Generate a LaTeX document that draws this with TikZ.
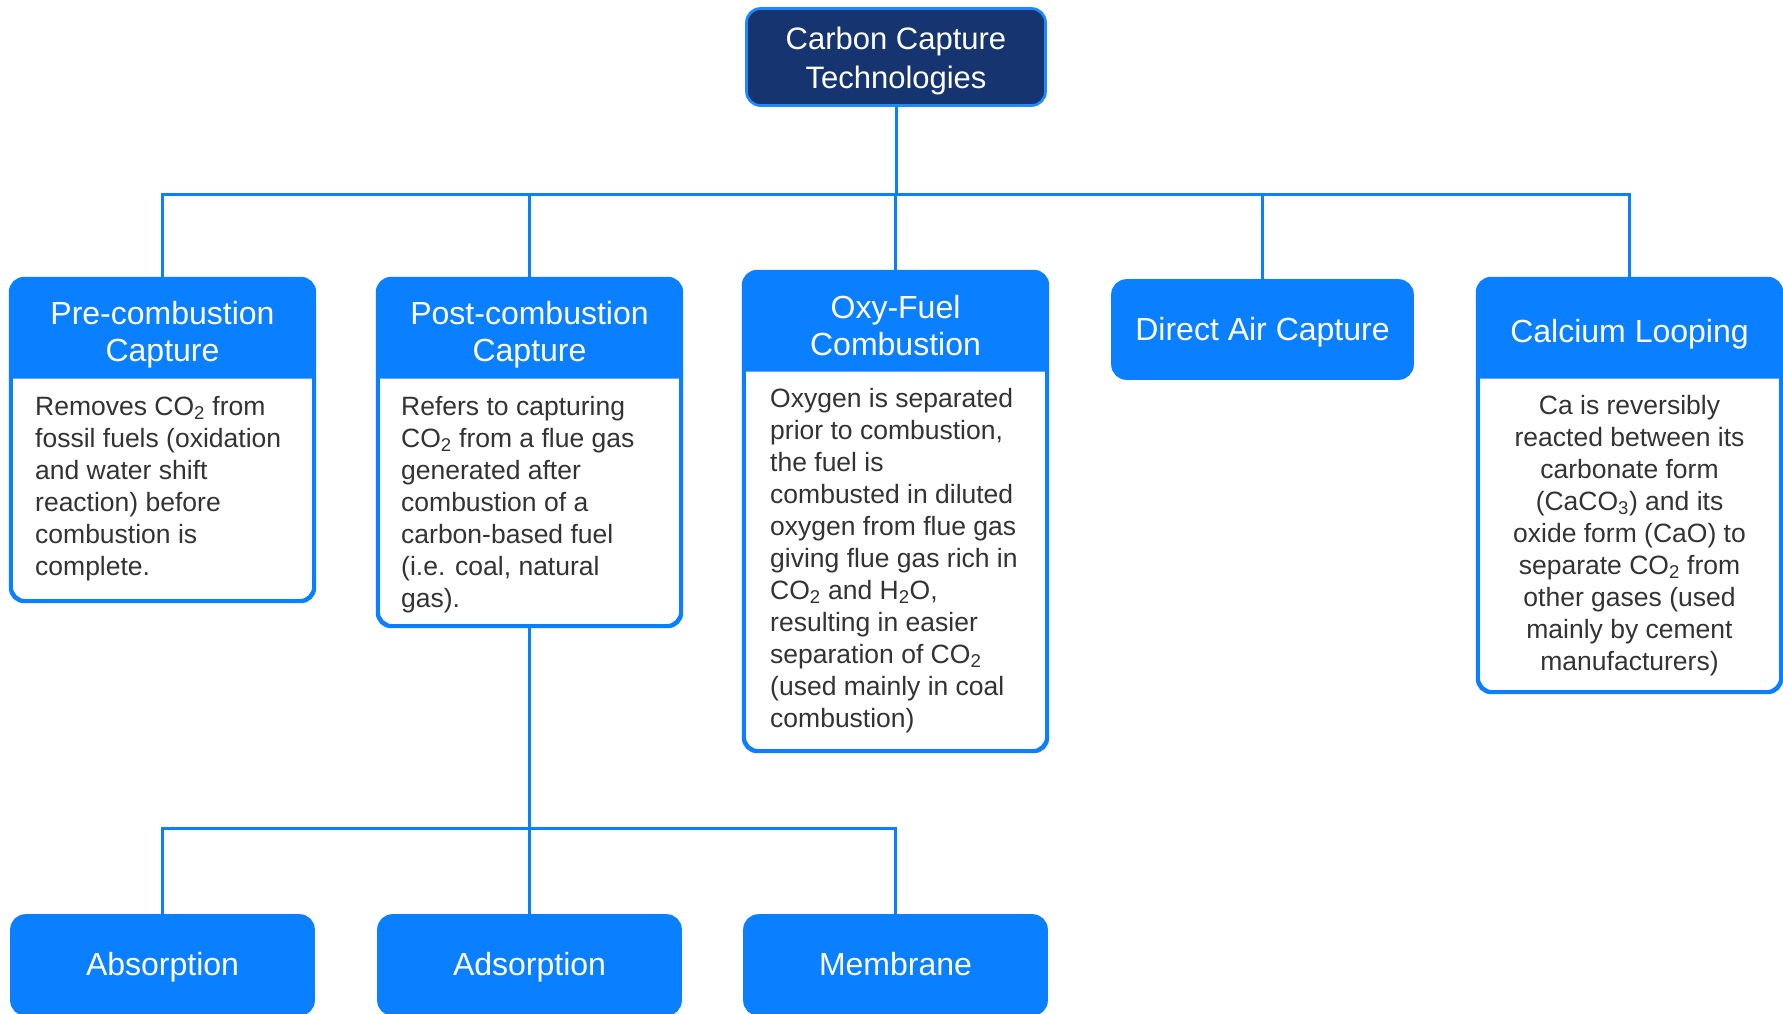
\documentclass[tikz,border=0pt]{standalone}
\usepackage{fontspec}
\setmainfont{Liberation Sans}
\usetikzlibrary{calc}
\definecolor{cblue}{HTML}{0A7FFF}
\definecolor{navy}{HTML}{163570}
\definecolor{rootline}{HTML}{1E88FF}
\definecolor{txt}{HTML}{333333}
\begin{document}
\begin{tikzpicture}[x=1pt,y=-1pt,
  box/.style={draw=cblue, line width=2.7pt, rounded corners=14pt, fill=white, inner sep=0pt, minimum width=302pt},
  hbox/.style={draw=cblue, line width=2.7pt, rounded corners=14pt, fill=cblue, inner sep=0pt, minimum width=302pt, minimum height=99pt, text=white, font=\fontsize{32pt}{37.5pt}\selectfont, text height=25pt, text depth=4pt},
  rootbox/.style={draw=rootline, line width=2.7pt, rounded corners=14pt, fill=navy, inner sep=0pt, text=white, align=center, font=\fontsize{31pt}{39pt}\selectfont},
  hdrtext/.style={font=\fontsize{32pt}{37.5pt}\selectfont, text=white, align=center, inner sep=0pt},
  body/.style={font=\fontsize{26.5pt}{32pt}\selectfont, text=txt, inner sep=0pt, align=left, anchor=north west},
  conn/.style={draw=cblue, line width=3pt}
]
\clip (0,0) rectangle (1783,1013);
\fill[white] (0,0) rectangle (1783,1013);

% root
\node[rootbox, minimum width=299pt, minimum height=97pt] (root) at (896,57) {};
\node[rootbox, draw=none, fill=none] (roott) at (896,60.5) {Carbon Capture\\Technologies};

% level 1 boxes
\node[box, minimum height=321pt] (pre) at (162.5,440) {};
\node[box, minimum height=346pt] (post) at (529.5,452.5) {};
\node[box, minimum height=478pt] (oxy) at (895.5,511.5) {};
\node[hbox, minimum width=300pt, minimum height=98pt] (dac) at (1262.5,329.5) {Direct Air Capture};
\node[box, minimum height=412pt] (cal) at (1629.5,485.5) {};

% header fills
\foreach \n/\h in {pre/100.5, post/100.5, oxy/100.5, cal/100.5}{
  \fill[cblue] ($(\n.north west)+(0,\h)$) [rounded corners=14pt] -- (\n.north west) -- (\n.north east) [sharp corners] -- ($(\n.north east)+(0,\h)$) -- cycle;
  \draw[cblue, line width=2.7pt, rounded corners=14pt] (\n.north west) rectangle (\n.south east);
}

% header texts
\node[hdrtext] (preh) at (162.5,334.5) {Pre-combustion\\Capture};
\node[hdrtext] (posth) at (529.5,334.5) {Post-combustion\\Capture};
\node[hdrtext] (oxyh) at (895.5,325.5) {Oxy-Fuel\\Combustion};
\node[hdrtext] (calh) at (1629.5,334.5) {Calcium Looping};

% body texts
\node[body] (preb) at (35,396) {Removes CO\textsubscript{2} from\\fossil fuels (oxidation\\and water shift\\reaction) before\\combustion is\\complete.};
\node[body] (postb) at (401,396) {Refers to capturing\\CO\textsubscript{2} from a flue gas\\generated after\\combustion of a\\carbon-based fuel\\(i.e. coal, natural\\gas).};
\node[body] (oxyb) at (770,388) {Oxygen is separated\\prior to combustion,\\the fuel is\\combusted in diluted\\oxygen from flue gas\\giving flue gas rich in\\CO\textsubscript{2} and H\textsubscript{2}O,\\resulting in easier\\separation of CO\textsubscript{2}\\(used mainly in coal\\combustion)};
\node[body, anchor=north, align=center] (calb) at (1629.5,395) {Ca is reversibly\\reacted between its\\carbonate form\\(CaCO\textsubscript{3}) and its\\oxide form (CaO) to\\separate CO\textsubscript{2} from\\other gases (used\\mainly by cement\\manufacturers)};

% level 2 boxes
\node[hbox] (abs) at (162.5,965) {Absorption};
\node[hbox] (ads) at (529.5,965) {Adsorption};
\node[hbox] (mem) at (895.5,965) {Membrane};

% connectors
\foreach \c in {pre, post, oxy, dac, cal}{
  \draw[conn] (root.south) -- ++(0,87.5) -| (\c.north);
}
\foreach \c in {abs, ads, mem}{
  \draw[conn] (post.south) -- ++(0,201.5) -| (\c.north);
}
\end{tikzpicture}
\end{document}
